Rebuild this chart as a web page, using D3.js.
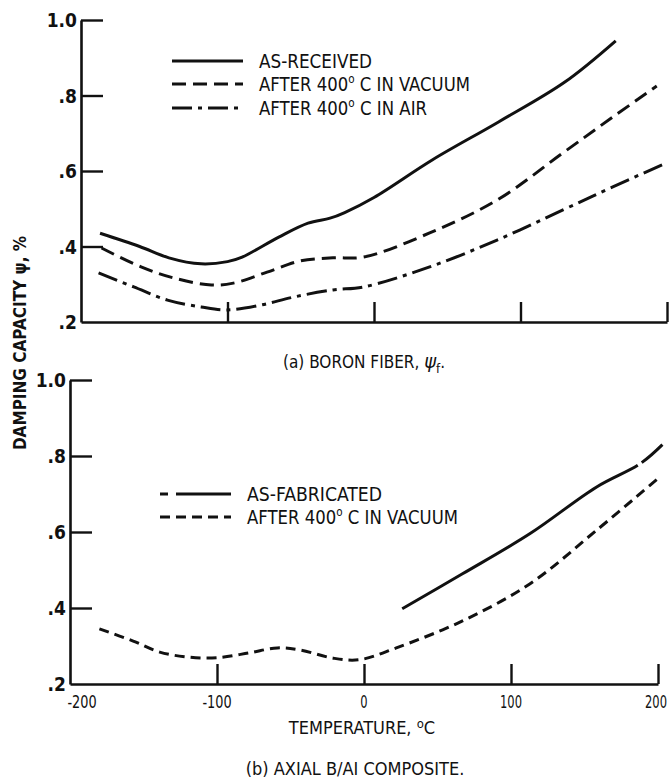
<!DOCTYPE html>
<html>
<head>
<meta charset="utf-8">
<script src="https://cdn.jsdelivr.net/npm/d3@7"></script>
<style>
  body { margin: 0; background: #fff; }
  text { font-family: "Liberation Sans Narrow", "DejaVu Sans Condensed", sans-serif; fill: #111; }
</style>
</head>
<body>
<div id="chart"></div>
<script>
// temperature (deg C), damping capacity psi (%)
const asReceived = [[-187, 0.435], [-160, 0.40], [-140, 0.37], [-118, 0.354], [-100, 0.36], [-90, 0.372],
  [-65, 0.425], [-45, 0.462], [-30, 0.475], [-20, 0.49], [0, 0.53], [40, 0.63], [85, 0.73], [130, 0.835], [165, 0.945]];
const vacuumFiber = [[-186, 0.396], [-159, 0.346], [-137, 0.317], [-111, 0.298], [-96, 0.303], [-73, 0.332],
  [-50, 0.362], [-28, 0.37], [-7, 0.372], [38, 0.436], [84, 0.523], [129, 0.648], [163, 0.743], [193, 0.825]];
const airFiber = [[-188, 0.33], [-164, 0.293], [-141, 0.258], [-118, 0.24], [-100, 0.232], [-77, 0.245],
  [-55, 0.266], [-28, 0.285], [-7, 0.293], [38, 0.346], [84, 0.417], [129, 0.497], [163, 0.558], [200, 0.622]];
const asFabricated = [[26, 0.398], [67, 0.49], [113, 0.596], [158, 0.718], [188, 0.78], [203, 0.83]];
const vacuumComposite = [[-180, 0.345], [-157, 0.313], [-139, 0.284], [-120, 0.271], [-100, 0.269], [-78, 0.282],
  [-59, 0.295], [-44, 0.29], [-21, 0.268], [-3, 0.264], [22, 0.295], [67, 0.366], [113, 0.464], [158, 0.604], [201, 0.744]];

const yTicks = [0.2, 0.4, 0.6, 0.8, 1.0];
const yLabels = ['.2', '.4', '.6', '.8', '1.0'];
const xTicks = [-200, -100, 0, 100, 200];
const xLabels = ['-200', '-100', '0', '100', '200'];

const width = 672, height = 784;

const svg = d3.select('#chart')
              .append('svg')
              .attr('width', width)
              .attr('height', height);

const panels = [
  { x0: 81, x1: 667, yTop: 20, yBot: 322, showX: false },
  { x0: 70, x1: 658, yTop: 380, yBot: 684, showX: true },
];

function drawPanel(p) {
  const x = d3.scaleLinear().domain([-200, 200]).range([p.x0, p.x1]);
  const y = d3.scaleLinear().domain([0.2, 1.0]).range([p.yBot, p.yTop]);

  const yAxis = d3.axisLeft(y)
                  .tickValues(yTicks)
                  .tickFormat((d, i) => yLabels[i])
                  .tickSizeInner(-22)
                  .tickSizeOuter(0)
                  .tickPadding(4);

  const gy = svg.append('g')
                .attr('transform', `translate(${p.x0},0)`)
                .call(yAxis);
  gy.selectAll('.tick line').filter(d => d === 0.2).remove();

  const xAxis = d3.axisBottom(x)
                  .tickValues(xTicks.slice(1))
                  .tickFormat(() => '')
                  .tickSizeInner(-20)
                  .tickSizeOuter(0);

  svg.append('g')
     .attr('transform', `translate(0,${p.yBot})`)
     .call(xAxis);

  if (p.showX) {
    svg.append('g')
       .selectAll('text')
       .data(xTicks)
       .enter()
       .append('text')
       .attr('x', (d, i) => i === 0 ? x(d) + 12 : (i === 4 ? x(d) - 2 : x(d)))
       .attr('y', p.yBot + 24)
       .attr('text-anchor', 'middle')
       .style('font-size', '17px')
       .attr('textLength', (d, i) => xLabels[i].length * 7.3)
       .attr('lengthAdjust', 'spacingAndGlyphs')
       .text((d, i) => xLabels[i]);
  }

  svg.selectAll('.domain').attr('stroke', '#111').attr('stroke-width', 2.6);
  svg.selectAll('.tick line').attr('stroke', '#111').attr('stroke-width', 2.4);
  gy.selectAll('.tick text').style('font-size', '19px').style('font-weight', 'bold')
    .attr('dy', '0.35em');

  return { x, y };
}

const fiberScales = drawPanel(panels[0]);
const compScales = drawPanel(panels[1]);

function curve(sc, data, dash) {
  const line = d3.line()
                 .x(d => sc.x(d[0]))
                 .y(d => sc.y(d[1]))
                 .curve(d3.curveCatmullRom.alpha(0.5));
  svg.append('path')
     .datum(data)
     .attr('d', line)
     .attr('fill', 'none')
     .attr('stroke', '#111')
     .attr('stroke-width', 3)
     .attr('stroke-dasharray', dash);
}

const dashed = '14,7';
const dashDot = '20,6,4,6';

curve(fiberScales, asReceived, null);
curve(fiberScales, vacuumFiber, dashed);
curve(fiberScales, airFiber, dashDot);
curve(compScales, asFabricated, '276,5,300,0');
curve(compScales, vacuumComposite, '10,6');

// legends
function legendItem(x, y, dash, label, len) {
  svg.append('line')
     .attr('x1', x).attr('x2', x + 71)
     .attr('y1', y).attr('y2', y)
     .attr('stroke', '#111')
     .attr('stroke-width', 3)
     .attr('stroke-dasharray', dash);
  const t = svg.append('text')
               .attr('x', x + 87)
               .attr('y', y + 7)
               .attr('textLength', len)
               .attr('lengthAdjust', 'spacingAndGlyphs')
               .style('font-size', '19px');
  label.forEach(part => {
    if (typeof part === 'object') {
      t.append('tspan').attr('dy', -8).style('font-size', '12px').text(part.sup);
      t.append('tspan').attr('dy', 8).text(' ');
    } else {
      t.append('tspan').text(part);
    }
  });
}

legendItem(172, 61, null, ['AS-RECEIVED'], 113);
legendItem(172, 84, '14,7', ['AFTER 400', { sup: 'o' }, 'C IN VACUUM'], 211);
legendItem(172, 108, dashDot, ['AFTER 400', { sup: 'o' }, 'C IN AIR'], 168);

legendItem(160, 494, '8,8,55', ['AS-FABRICATED'], 135);
legendItem(160, 517, '10,6', ['AFTER 400', { sup: 'o' }, 'C IN VACUUM'], 211);

// captions and titles
const capA = svg.append('text')
                .attr('x', 364).attr('y', 368)
                .attr('text-anchor', 'middle')
                .style('font-size', '17px');
capA.append('tspan').text('(a) BORON FIBER, ');
capA.append('tspan').style('font-style', 'italic').style('font-size', '20px').text('ψ');
capA.append('tspan').attr('dy', 5).style('font-size', '13px').text('f');
capA.append('tspan').attr('dy', -5).text('.');

const tt = svg.append('text')
              .attr('x', 362).attr('y', 734)
              .attr('text-anchor', 'middle')
              .style('font-size', '18px');
tt.append('tspan').text('TEMPERATURE, ');
tt.append('tspan').attr('dy', -6).style('font-size', '13px').text('o');
tt.append('tspan').attr('dy', 6).text('C');

svg.append('text')
   .attr('x', 355).attr('y', 775)
   .attr('text-anchor', 'middle')
   .style('font-size', '18px')
   .text('(b) AXIAL B/AI COMPOSITE.');

svg.append('text')
   .attr('transform', 'translate(26,343) rotate(-90)')
   .attr('text-anchor', 'middle')
   .style('font-size', '17px')
   .style('font-weight', 'bold')
   .text('DAMPING CAPACITY ψ, %');
</script>
</body>
</html>
